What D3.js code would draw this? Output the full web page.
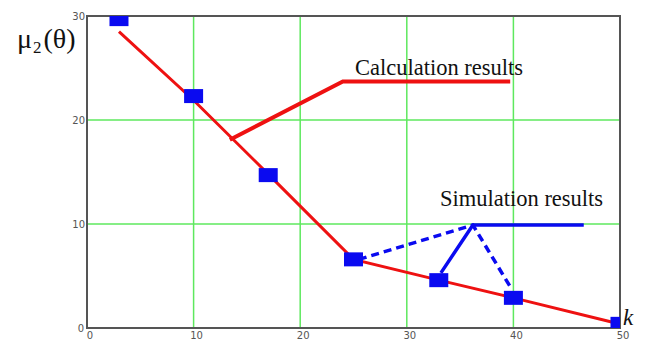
<!DOCTYPE html>
<html>
<head>
<meta charset="utf-8">
<script src="https://cdn.jsdelivr.net/npm/d3@7"></script>
<style>
  body { margin: 0; background: #fff; }
  svg { display: block; }
</style>
</head>
<body>
<div id="chart"></div>
<script>
// data
var kCalc = [3, 10, 17, 25, 33, 40, 49.5];
var muCalc = [28.5, 21.9, 14.8, 6.6, 4.6, 2.9, 0.5];

var kSim = [3, 10, 17, 25, 33, 40, 50];
var muSim = [29.7, 22.3, 14.7, 6.6, 4.6, 2.9, 0.4];

var xTicks = [0, 10, 20, 30, 40, 50];
var yTicks = [0, 10, 20, 30];

// annotation leaders (data units)
var calcLeader = [[13.4, 18.1], [24, 23.7], [39.7, 23.7]];
var simCorner = [36.2, 9.9];
var simEnd = [46.6, 9.9];

var width = 649, height = 340;

var svg = d3.select("#chart")
  .append("svg")
    .attr("width", width)
    .attr("height", height);

var x = d3.scaleLinear().domain([0, 50]).range([87, 620]);
var y = d3.scaleLinear().domain([0, 30]).range([328, 16]);

// clip marks to the frame
svg.append("clipPath").attr("id", "plot")
  .append("rect")
    .attr("x", x(0)).attr("y", y(30))
    .attr("width", x(50) - x(0)).attr("height", y(0) - y(30));

// grid lines
svg.append("g")
  .selectAll("line")
  .data(xTicks.filter(function(d) { return d > 0 && d < 50; }))
  .enter().append("line")
    .attr("x1", function(d) { return x(d); })
    .attr("x2", function(d) { return x(d); })
    .attr("y1", y(0)).attr("y2", y(30))
    .style("stroke", "#5ee85e")
    .style("stroke-width", 1.5);

svg.append("g")
  .selectAll("line")
  .data(yTicks.filter(function(d) { return d > 0 && d < 30; }))
  .enter().append("line")
    .attr("x1", x(0)).attr("x2", x(50))
    .attr("y1", function(d) { return y(d); })
    .attr("y2", function(d) { return y(d); })
    .style("stroke", "#5ee85e")
    .style("stroke-width", 1.5);

// frame
svg.append("rect")
  .attr("x", x(0)).attr("y", y(30))
  .attr("width", x(50) - x(0)).attr("height", y(0) - y(30))
  .style("fill", "none")
  .style("stroke", "#555")
  .style("stroke-width", 2);

// tick labels
svg.append("g")
  .selectAll("text")
  .data(xTicks)
  .enter().append("text")
    .attr("x", function(d) { return x(d) + 3; })
    .attr("y", 339)
    .attr("text-anchor", "middle")
    .style("font-family", "DejaVu Sans")
    .style("font-size", "10px")
    .style("fill", "#555")
    .text(function(d) { return d; });

svg.append("g")
  .selectAll("text")
  .data(yTicks)
  .enter().append("text")
    .attr("x", function(d) { return d === 0 ? 84 : 85; })
    .attr("y", function(d) { return y(d) + 4; })
    .attr("text-anchor", "end")
    .style("font-family", "DejaVu Sans")
    .style("font-size", "10px")
    .style("fill", "#555")
    .text(function(d) { return d; });

var line = d3.line()
  .x(function(d) { return x(d[0]); })
  .y(function(d) { return y(d[1]); });

var marks = svg.append("g").attr("clip-path", "url(#plot)");

// calculation curve
marks.append("path")
  .datum(d3.zip(kCalc, muCalc))
  .attr("d", line)
  .style("fill", "none")
  .style("stroke", "#ee1111")
  .style("stroke-width", 3);

// simulation points
marks.selectAll("rect.pt")
  .data(d3.zip(kSim, muSim))
  .enter().append("rect")
    .attr("class", "pt")
    .attr("x", function(d) { return x(d[0]) - 9.5; })
    .attr("y", function(d) { return y(d[1]) - 7; })
    .attr("width", 19)
    .attr("height", 14)
    .style("fill", "#0a0af0");

// annotations
svg.append("path")
  .datum(calcLeader)
  .attr("d", line)
  .style("fill", "none")
  .style("stroke", "#ee1111")
  .style("stroke-width", 4);

svg.append("text")
  .attr("x", 355).attr("y", 75)
  .style("font-family", "Liberation Serif")
  .style("font-size", "22.5px")
  .style("fill", "#111")
  .text("Calculation results");

var blue = "#0a0af0";
svg.append("path")
  .datum([simEnd, simCorner, [kSim[4] + 0.2, muSim[4] + 0.7]])
  .attr("d", line)
  .style("fill", "none")
  .style("stroke", blue)
  .style("stroke-width", 3.5);

svg.append("path")
  .datum([[kSim[3] + 0.5, muSim[3]], simCorner, [kSim[5] - 0.2, muSim[5] + 0.9]])
  .attr("d", line)
  .style("fill", "none")
  .style("stroke", blue)
  .style("stroke-width", 3.5)
  .style("stroke-dasharray", "8,5");

svg.append("text")
  .attr("x", 440).attr("y", 206)
  .style("font-family", "Liberation Serif")
  .style("font-size", "22.5px")
  .style("fill", "#111")
  .text("Simulation results");

// axis titles
var yt = svg.append("text")
  .attr("x", 17).attr("y", 48)
  .style("font-family", "Liberation Serif")
  .style("font-size", "28px")
  .style("fill", "#111");
yt.append("tspan").text("\u03bc");
yt.append("tspan").attr("dy", 5).attr("dx", 1).style("font-size", "17px").text("2");
yt.append("tspan").attr("dy", -5).attr("dx", 2).text("(\u03b8)");

svg.append("text")
  .attr("x", 623).attr("y", 325)
  .style("font-family", "Liberation Serif")
  .style("font-style", "italic")
  .style("font-size", "23px")
  .style("fill", "#111")
  .text("k");
</script>
</body>
</html>
